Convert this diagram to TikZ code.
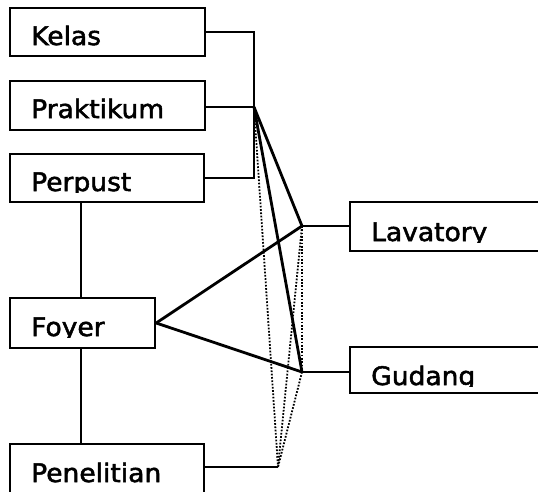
\documentclass[tikz,border=0pt]{standalone}
\usepackage{fontspec}
\setmainfont{DejaVu Sans}
\usepackage{graphicx}
% slightly heavier glyphs: fill and stroke the outlines
\newcommand\heavy[1]{\special{pdf:code 2 Tr 0.5 w}#1\special{pdf:code 0 Tr}}
% room label, cut off just below the baseline
\newcommand\roomlabel[4]{%
  \begin{scope}
    \clip (#2-25,#3-32) rectangle (#2+200,#3+1.5);
    \node[lbl] (#1) at (#2,#3) {\scalebox{1.04}[1]{\heavy{#4}}};
  \end{scope}}
\begin{document}
\begin{tikzpicture}[x=1pt,y=-1pt,
  room/.style={draw, rectangle, line width=2.4pt, inner sep=0pt},
  lbl/.style={anchor=base west, inner sep=0pt, font=\fontsize{25.5}{29}\selectfont},
  conn/.style={line width=2.3pt},
  fan/.style={line width=2.8pt},
  dots/.style={line width=1.8pt, dash pattern=on 1.7pt off 1.6pt}]
\useasboundingbox (0,0) rectangle (538,491);
\clip (0,0) rectangle (538,491);

% rooms
\node[room, minimum width=195pt, minimum height=48pt] (kelas)  at (107.5,32) {};
\node[room, minimum width=195pt, minimum height=49pt] (prakt)  at (107.5,105.5) {};
\node[room, minimum width=194pt, minimum height=48pt] (perpus) at (107,178) {};
\node[room, minimum width=145pt, minimum height=50pt] (foyer)  at (82.5,323) {};
\node[room, minimum width=194pt, minimum height=50pt] (penel)  at (107,469) {};
\node[room, minimum width=200pt, minimum height=49pt] (lav)    at (450,226.5) {};
\node[room, minimum width=200pt, minimum height=46pt] (gud)    at (450,370) {};

\roomlabel{kelasT}{31}{45}{Kelas}
\roomlabel{praktT}{31}{118}{Praktikum}
\roomlabel{perpusT}{31}{191}{Perpust}
\roomlabel{foyerT}{31}{336}{Foyer}
\roomlabel{penelT}{31}{482}{Penelitian}
\roomlabel{lavT}{371}{241}{Lavatory}
\roomlabel{gudT}{371}{385}{Gudang}

% junction points
\coordinate (P) at (254,107);
\coordinate (L) at (302,226);
\coordinate (G) at (302,372);
\coordinate (Q) at (278,467);

% bracket on the right of the upper rooms
\draw[conn] (kelas.east) -- (kelas.east -| P) -- (P |- perpus.east) -- (perpus.east);
\draw[conn] (prakt.east |- P) -- (P);

% vertical links on the left
\draw[conn] ([xshift=72pt]perpus.south west) -- ([xshift=72pt]foyer.north west);
\draw[conn] ([xshift=72pt]foyer.south west) -- ([xshift=72pt]penel.north west);

% links to the right-hand rooms
\draw[conn] (L) -- (L -| lav.west);
\draw[conn] (G) -- (G -| gud.west);
\draw[conn] (penel.east |- Q) -- (Q);

% solid fan
\draw[fan] (P) -- (L);
\draw[fan] (P) -- (G);
\draw[fan] (foyer.east) -- (L);
\draw[fan] (foyer.east) -- (G);

% dotted fan
\draw[dots] (P) -- (Q);
\draw[dots] (L) -- (G);
\draw[dots] (L) -- (Q);
\draw[dots] (G) -- (Q);
\end{tikzpicture}
\end{document}
